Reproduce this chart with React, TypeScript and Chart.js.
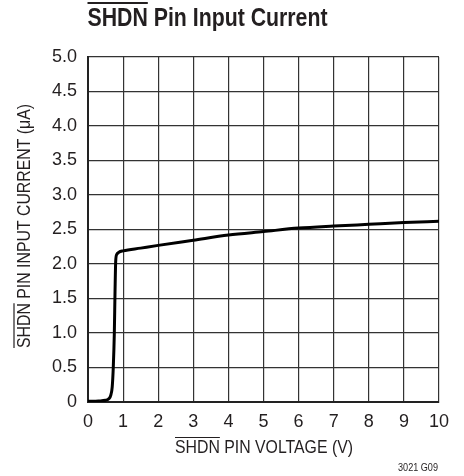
import React, { useEffect, useRef } from "react";
import { Chart, registerables } from "chart.js";

Chart.register(...registerables);

const voltage = [0, 0.3, 0.5, 0.6, 0.65, 0.69, 0.72, 0.75, 0.77, 0.79, 0.82, 0.88, 1, 1.5, 2, 3, 4, 5, 6, 7, 8, 9, 10];
const current = [0.01, 0.015, 0.025, 0.05, 0.1, 0.22, 0.5, 1.0, 1.6, 2.05, 2.14, 2.17, 2.19, 2.23, 2.27, 2.345, 2.42, 2.47, 2.52, 2.55, 2.575, 2.6, 2.62];
const yTicks = [0, 0.5, 1.0, 1.5, 2.0, 2.5, 3.0, 3.5, 4.0, 4.5, 5.0];
const xTicks = [0, 1, 2, 3, 4, 5, 6, 7, 8, 9, 10];

const TITLE_OVER = "SHDN";
const TITLE_REST = " Pin Input Current";
const X_OVER = "SHDN";
const X_REST = " PIN VOLTAGE (V)";
const Y_OVER = "SHDN";
const Y_REST = " PIN INPUT CURRENT (\u03BCA)";
const FOOT = "3021 G09";

const FAM = '"Liberation Sans", Arial, sans-serif';
const INK = "#231f20";

function drawFit(
  ctx: CanvasRenderingContext2D,
  over: string,
  rest: string,
  cx: number,
  cy: number,
  font: string,
  target: number,
  lineOff: number,
  lw: number
) {
  ctx.save();
  ctx.font = font;
  const w1 = ctx.measureText(over).width;
  const w2 = ctx.measureText(rest).width;
  const sx = target / (w1 + w2);
  ctx.translate(cx, cy);
  ctx.scale(sx, 1);
  const x0 = -(w1 + w2) / 2;
  ctx.textAlign = "left";
  ctx.textBaseline = "middle";
  ctx.fillText(over + rest, x0, 0);
  if (over) {
    ctx.lineWidth = lw;
    ctx.beginPath();
    ctx.moveTo(x0, -lineOff);
    ctx.lineTo(x0 + w1, -lineOff);
    ctx.stroke();
  }
  ctx.restore();
}

const textPlugin = {
  id: "texts",
  afterDraw(chart: any) {
    const ctx = chart.ctx as CanvasRenderingContext2D;
    ctx.save();
    ctx.fillStyle = INK;
    ctx.strokeStyle = INK;
    drawFit(ctx, TITLE_OVER, TITLE_REST, 207.5, 19, `bold 25px ${FAM}`, 240, 16, 2);
    drawFit(ctx, X_OVER, X_REST, 264, 448.5, `18px ${FAM}`, 178, 11, 1.2);
    ctx.save();
    ctx.translate(25, 226);
    ctx.rotate(-Math.PI / 2);
    drawFit(ctx, Y_OVER, Y_REST, 0, 0, `18px ${FAM}`, 244, 11, 1.2);
    ctx.restore();
    drawFit(ctx, "", FOOT, 418, 468.5, `10px ${FAM}`, 40, 0, 0);
    ctx.restore();
  },
};

export default function App() {
  const ref = useRef<HTMLCanvasElement | null>(null);
  useEffect(() => {
    document.body.style.margin = "0";
    const c = ref.current!;
    const chart = new Chart(c, {
      type: "line",
      data: {
        datasets: [
          {
            data: voltage.map((v, i) => ({ x: v, y: current[i] })),
            borderColor: "#000",
            borderWidth: 3,
            pointRadius: 0,
            cubicInterpolationMode: "monotone",
            fill: false,
          },
        ],
      },
      options: {
        responsive: false,
        animation: false,
        layout: { padding: { left: 0, right: 25, top: 57, bottom: 0 } },
        plugins: { legend: { display: false }, tooltip: { enabled: false }, title: { display: false } },
        scales: {
          x: {
            type: "linear",
            min: 0,
            max: 10,
            afterBuildTicks: (s: any) => { s.ticks = xTicks.map((v) => ({ value: v })); },
            afterFit: (s: any) => { s.height = 74; },
            grid: { color: "#333", lineWidth: 1.2, drawTicks: false },
            border: { color: "#222", width: 2 },
            ticks: { color: INK, font: { family: FAM, size: 18 }, padding: 9, maxRotation: 0, autoSkip: false },
          },
          y: {
            type: "linear",
            min: 0,
            max: 5,
            afterBuildTicks: (s: any) => { s.ticks = yTicks.map((v) => ({ value: v })); },
            afterFit: (s: any) => { s.width = 88; },
            grid: { color: "#333", lineWidth: 1.2, drawTicks: false },
            border: { color: "#222", width: 2 },
            ticks: {
              color: INK,
              font: { family: FAM, size: 18 },
              padding: 11,
              autoSkip: false,
              callback: (v: any) => (Number(v) === 0 ? "0" : Number(v).toFixed(1)),
            },
          },
        },
      },
      plugins: [textPlugin],
    });
    return () => chart.destroy();
  }, []);
  return <canvas ref={ref} width={464} height={476} style={{ display: "block" }} />;
}
